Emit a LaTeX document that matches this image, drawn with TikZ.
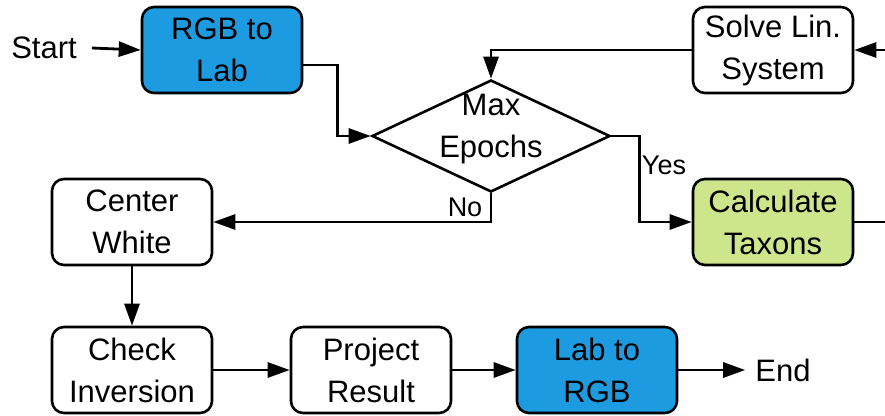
\documentclass[tikz,border=0pt]{standalone}
\usepackage{fontspec}
\setmainfont{Liberation Sans}
\usetikzlibrary{arrows.meta,shapes.geometric}
\definecolor{labblue}{HTML}{1D9BE0}
\definecolor{taxgreen}{HTML}{CDE68C}
\tikzset{
  stepbox/.style={draw=black, line width=2.6pt, rounded corners=12pt,
    minimum width=160pt, minimum height=86pt, inner sep=0pt,
    align=center, font=\fontsize{31}{42}\selectfont},
  decbox/.style={draw=black, line width=2.6pt, diamond,
    minimum width=238pt, minimum height=112pt, inner sep=0pt},
  txt/.style={inner sep=0pt, align=center, font=\fontsize{31}{42}\selectfont},
  lbl/.style={inner sep=0pt, font=\fontsize{27}{30}\selectfont},
  arr/.style={line width=2.8pt, -{Triangle[length=22pt,width=15pt]}},
  ln/.style={line width=2.8pt}
}
\begin{document}
\begin{tikzpicture}[x=1pt,y=-1pt]
\useasboundingbox (0,0) rectangle (885,415);
\clip (0,0) rectangle (885,415);
\fill[white] (0,0) rectangle (885,415);

% process steps
\node[txt] (start) at (44,48) {Start};
\node[stepbox, fill=labblue] (rgb) at (222,50) {RGB to\\Lab};
\node[decbox] (dec) at (491,136) {};
\node[txt] (dectext) at (491,129) {Max\\Epochs};
\node[stepbox] (solve) at (773,50) {Solve Lin.\\System};
\node[stepbox, fill=taxgreen] (calc) at (773,222) {Calculate\\Taxons};
\node[stepbox] (cw) at (132,222) {Center\\White};
\node[stepbox] (ci) at (132,370) {Check\\Inversion};
\node[stepbox] (pr) at (371,370) {Project\\Result};
\node[stepbox, fill=labblue] (lr) at (597,370) {Lab to\\RGB};
\node[txt] (end) at (783,370) {End};

% connectors
\draw[arr] ([xshift=15pt]start.east) -- (rgb.west);
\draw[arr] ([yshift=-15pt]rgb.east) -- ++(34,0) |- (dec.west);
\draw[arr] (solve.west) -| (dec.north);
\draw[arr] (dec.east) -- ++(28,0) |- (calc.west);
\node[lbl] (yes) at (664,165) {Yes};
\draw[arr] (dec.south) |- (cw.east);
\node[lbl] (no) at (465,207) {No};
\draw[arr] (cw.south) -- (ci.north);
\draw[arr] (ci.east) -- (pr.west);
\draw[arr] (pr.east) -- (lr.west);
\draw[arr] (lr.east) -- ([xshift=-10pt]end.west);

% loop back from the taxon step to the linear solver
\coordinate (loop) at (930,136);
\draw[arr] (calc.east) -| (loop) |- (solve.east);
\end{tikzpicture}
\end{document}
